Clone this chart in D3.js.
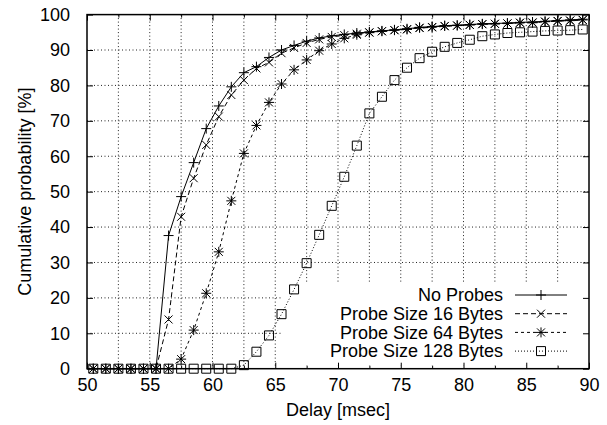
<!DOCTYPE html>
<html>
<head>
<meta charset="utf-8">
<script src="https://cdn.jsdelivr.net/npm/d3@7"></script>
<style>
    html, body { margin: 0; padding: 0; background: #fff; }
    svg text { font-family: "Liberation Sans", Arial, Helvetica, sans-serif; fill: #000; }
    .axis path { display: none; }
    .axis line { stroke: #000; stroke-width: 1; }
</style>
</head>
<body>
<div id="chart-area"></div>
<script>
// Delay bins (msec) where each CDF value was sampled
const delays = [50.5, 51.5, 52.5, 53.5, 54.5, 55.5, 56.5, 57.5, 58.5, 59.5,
                60.5, 61.5, 62.5, 63.5, 64.5, 65.5, 66.5, 67.5, 68.5, 69.5,
                70.5, 71.5, 72.5, 73.5, 74.5, 75.5, 76.5, 77.5, 78.5, 79.5,
                80.5, 81.5, 82.5, 83.5, 84.5, 85.5, 86.5, 87.5, 88.5, 89.5];

// Cumulative probability [%] per series
const noProbes = [0, 0, 0, 0, 0, 0, 37.6, 48.6, 58.2, 67.8,
                  74.2, 79.6, 83.6, 85.3, 87.9, 90.0, 91.3, 92.5, 93.4, 94.0,
                  94.4, 94.8, 95.1, 95.4, 95.7, 96.0, 96.4, 96.6, 96.9, 97.0,
                  97.2, 97.4, 97.5, 97.6, 97.8, 97.9, 98.1, 98.3, 98.5, 98.7];
const probe16 = [0, 0, 0, 0, 0, 0, 13.9, 42.9, 53.8, 63.2,
                 71.2, 77.3, 81.5, 84.8, 86.5, 89.1, 90.6, 92.0, 93.0, 93.7,
                 94.2, 94.6, 95.0, 95.3, 95.6, 95.9, 96.2, 96.4, 96.7, 96.9,
                 97.1, 97.3, 97.4, 97.5, 97.7, 97.8, 98.0, 98.2, 98.3, 98.5];
const probe64 = [0, 0, 0, 0, 0, 0, 0, 2.7, 10.9, 21.3,
                 33.0, 47.4, 60.8, 68.7, 75.2, 80.4, 84.4, 87.2, 89.8, 91.7,
                 93.3, 94.3, 94.9, 95.3, 95.6, 95.8, 96.3, 96.5, 96.8, 96.9,
                 97.1, 97.3, 97.4, 97.5, 97.7, 97.7, 98.0, 98.2, 98.3, 98.5];
const probe128 = [0, 0, 0, 0, 0, 0, 0, 0, 0, 0,
                  0, 0, 1.0, 4.8, 9.4, 15.4, 22.4, 29.8, 37.8, 46.0,
                  54.2, 63.0, 72.1, 76.8, 81.5, 85.0, 87.7, 89.5, 90.9, 92.0,
                  92.9, 93.9, 94.4, 94.8, 95.0, 95.2, 95.4, 95.5, 95.6, 95.8];

const seriesNames = ['No Probes', 'Probe Size 16 Bytes', 'Probe Size 64 Bytes', 'Probe Size 128 Bytes'];
const seriesValues = [noProbes, probe16, probe64, probe128];

// Tick labels
const xTicks = [50, 55, 60, 65, 70, 75, 80, 85, 90];
const xMinorTicks = [52.5, 57.5, 62.5, 67.5, 72.5, 77.5, 82.5, 87.5];
const yTicks = [0, 10, 20, 30, 40, 50, 60, 70, 80, 90, 100];

;(function () {
    'use strict';

    const WIDTH = 607;
    const HEIGHT = 425;
    const MARGIN = {LEFT: 87, RIGHT: 18, TOP: 14.6, BOTTOM: 56.3};
    const wGraph = WIDTH - MARGIN.LEFT - MARGIN.RIGHT;
    const hGraph = HEIGHT - MARGIN.TOP - MARGIN.BOTTOM;
    const FONT = '18px';

    // gnuplot-like line / point styles, one per series
    const dashes = [null, '5,3', '3,3', '1,2'];
    const markers = [
        'M-5,0H5M0,-5V5',
        'M-4,-4L4,4M-4,4L4,-4',
        'M-5,0H5M0,-5V5M-4,-4L4,4M-4,4L4,-4',
        'M-4.5,-4.5H4.5V4.5H-4.5Z'
    ];

    const svg = d3.select('#chart-area').append('svg')
        .attr('width', WIDTH)
        .attr('height', HEIGHT);

    const group = svg.append('g')
        .attr('transform', `translate(${MARGIN.LEFT}, ${MARGIN.TOP})`);

    const xScale = d3.scaleLinear().domain([50, 90]).range([0, wGraph]);
    const yScale = d3.scaleLinear().domain([0, 100]).range([hGraph, 0]);

    // Dotted grid: every major + minor x tick, every y tick
    const grid = group.append('g')
        .attr('stroke', '#222')
        .attr('stroke-width', 1)
        .attr('stroke-dasharray', '1,2.5');
    grid.selectAll('line.vx')
        .data(xTicks.concat(xMinorTicks).filter(d => d > 50 && d < 90))
        .enter().append('line')
        .attr('x1', d => xScale(d)).attr('x2', d => xScale(d))
        .attr('y1', 0).attr('y2', hGraph);
    grid.selectAll('line.hy')
        .data(yTicks.filter(d => d > 0 && d < 100))
        .enter().append('line')
        .attr('x1', 0).attr('x2', wGraph)
        .attr('y1', d => yScale(d)).attr('y2', d => yScale(d));

    // Key area is cleared, like gnuplot does
    group.append('rect')
        .attr('x', 196).attr('y', 268)
        .attr('width', wGraph - 196).attr('height', hGraph - 268 - 3)
        .attr('fill', '#fff');

    // Axes, ticks pointing inward on all four sides
    group.append('g')
        .attr('class', 'x axis')
        .attr('transform', `translate(0,${hGraph})`)
        .call(d3.axisBottom(xScale).tickValues(xTicks).tickSize(-6).tickPadding(10))
        .selectAll('text').attr('font-size', FONT);
    group.append('g')
        .attr('class', 'x axis minor')
        .attr('transform', `translate(0,${hGraph})`)
        .call(d3.axisBottom(xScale).tickValues(xMinorTicks).tickSize(-3).tickFormat(''));
    group.append('g')
        .attr('class', 'x axis')
        .call(d3.axisTop(xScale).tickValues(xTicks).tickSize(-6).tickFormat(''));
    group.append('g')
        .attr('class', 'x axis minor')
        .call(d3.axisTop(xScale).tickValues(xMinorTicks).tickSize(-3).tickFormat(''));
    group.append('g')
        .attr('class', 'y axis')
        .call(d3.axisLeft(yScale).tickValues(yTicks).tickSize(-6).tickPadding(17))
        .selectAll('text').attr('font-size', FONT);
    group.append('g')
        .attr('class', 'y axis')
        .attr('transform', `translate(${wGraph},0)`)
        .call(d3.axisRight(yScale).tickValues(yTicks).tickSize(-6).tickFormat(''));

    // Data lines + markers
    const line = d3.line()
        .x((d, i) => xScale(delays[i]))
        .y(d => yScale(d));

    seriesValues.forEach((values, s) => {
        group.append('path')
            .datum(values)
            .attr('fill', 'none')
            .attr('stroke', '#000')
            .attr('stroke-width', 1)
            .attr('stroke-dasharray', dashes[s])
            .attr('d', line);

        group.append('g')
            .selectAll('path')
            .data(values)
            .enter().append('path')
            .attr('transform', (d, i) => `translate(${xScale(delays[i])},${yScale(d)})`)
            .attr('d', markers[s])
            .attr('fill', 'none')
            .attr('stroke', '#000')
            .attr('stroke-width', 1);
    });

    // Plot border
    group.append('rect')
        .attr('width', wGraph)
        .attr('height', hGraph)
        .attr('fill', 'none')
        .attr('stroke', '#000')
        .attr('stroke-width', 1.5);

    // Legend (bottom right, text right aligned)
    const key = svg.append('g');
    seriesNames.forEach((name, s) => {
        const y = 295 + s * 18.7;
        key.append('text')
            .attr('x', 503)
            .attr('y', y)
            .attr('dy', '0.35em')
            .attr('text-anchor', 'end')
            .attr('font-size', FONT)
            .text(name);
        key.append('line')
            .attr('x1', 515).attr('x2', 567)
            .attr('y1', y).attr('y2', y)
            .attr('stroke', '#000')
            .attr('stroke-dasharray', dashes[s]);
        key.append('path')
            .attr('transform', `translate(541,${y})`)
            .attr('d', markers[s])
            .attr('fill', 'none')
            .attr('stroke', '#000');
    });

    // Axis labels
    svg.append('text')
        .attr('x', MARGIN.LEFT + wGraph / 2)
        .attr('y', 410)
        .attr('dy', '0.35em')
        .attr('text-anchor', 'middle')
        .attr('font-size', FONT)
        .text('Delay [msec]');

    svg.append('text')
        .attr('transform', `translate(25, ${MARGIN.TOP + hGraph / 2}) rotate(-90)`)
        .attr('dy', '0.35em')
        .attr('text-anchor', 'middle')
        .attr('font-size', FONT)
        .text('Cumulative probability [%]');
})();
</script>
</body>
</html>
